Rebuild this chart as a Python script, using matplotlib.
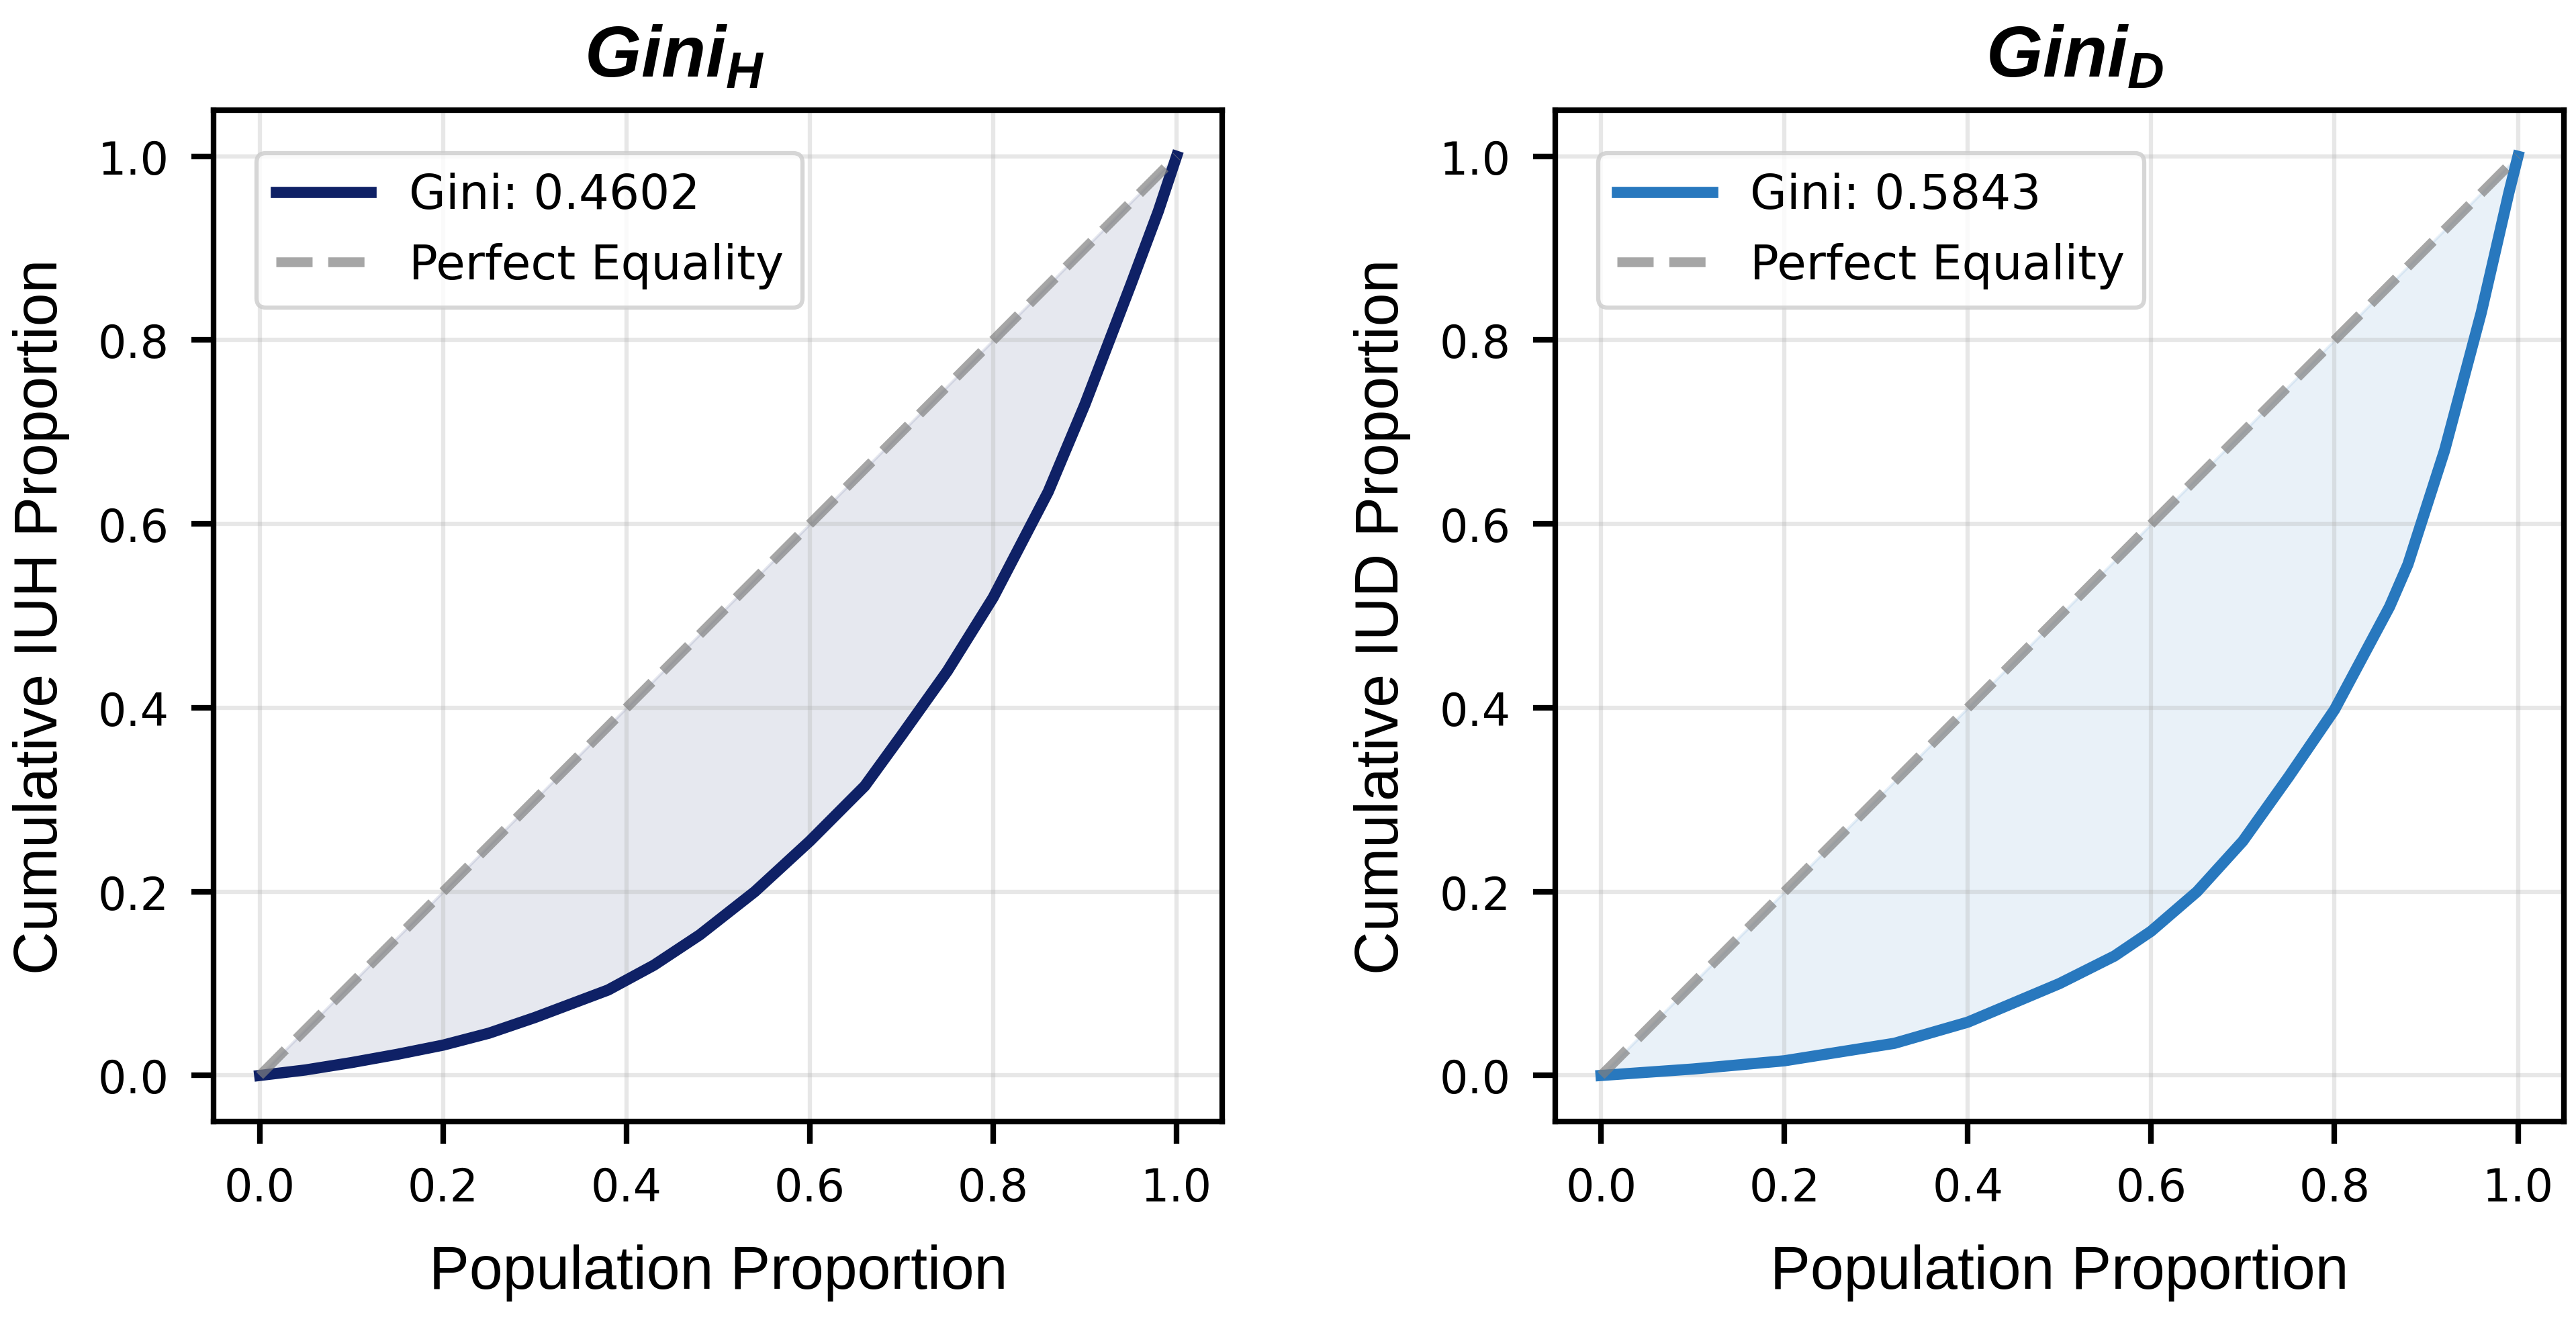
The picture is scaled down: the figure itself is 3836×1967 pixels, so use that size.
import matplotlib
matplotlib.use("Agg")
import matplotlib.pyplot as plt

plt.rcParams['mathtext.fontset'] = 'custom'
plt.rcParams['mathtext.it'] = 'Liberation Sans:italic:bold'
plt.rcParams['mathtext.rm'] = 'Liberation Sans:bold'

# Lorenz curve points
pop_h = [0.0, 0.05, 0.10, 0.15, 0.20, 0.25, 0.30, 0.38, 0.43, 0.48, 0.54,
         0.60, 0.66, 0.70, 0.75, 0.80, 0.86, 0.90, 0.95, 0.98, 1.0]
cum_h = [0.0, 0.006, 0.014, 0.023, 0.033, 0.046, 0.063, 0.093, 0.12, 0.153, 0.20,
         0.255, 0.315, 0.37, 0.44, 0.52, 0.635, 0.73, 0.86, 0.94, 1.0]

pop_d = [0.0, 0.10, 0.20, 0.32, 0.40, 0.50, 0.56, 0.60, 0.65, 0.70, 0.75,
         0.80, 0.86, 0.88, 0.92, 0.96, 0.99, 1.0]
cum_d = [0.0, 0.007, 0.016, 0.035, 0.058, 0.10, 0.13, 0.157, 0.20, 0.255, 0.325,
         0.398, 0.51, 0.556, 0.68, 0.83, 0.96, 1.0]

gini_vals = [0.4602, 0.5843]
titles = [r'$Gini_H$', r'$Gini_D$']
title_x = [0.457, 0.515]
ylabels = ['Cumulative IUH Proportion', 'Cumulative IUD Proportion']
colors = ['#0f2166', '#2878be']

fig, axes = plt.subplots(1, 2, figsize=(12.79, 6.56), dpi=300)
fig.subplots_adjust(left=0.083, right=0.995, bottom=0.151, top=0.916, wspace=0.33)

for ax, xs, ys, g, t, tx, yl, c in zip(axes, [pop_h, pop_d], [cum_h, cum_d],
                                       gini_vals, titles, title_x, ylabels, colors):
    ax.plot(xs, ys, color=c, lw=4, label=f'Gini: {g:.4f}')
    ax.plot([0, 1], [0, 1], '--', color='gray', lw=3.5, alpha=0.7, label='Perfect Equality')
    ax.fill_between(xs, xs, ys, color=c, alpha=0.1)
    ax.set_title(t, fontsize=26, pad=12, x=tx)
    ax.set_xlabel('Population Proportion', fontsize=21.5, family='Liberation Sans', labelpad=12)
    ax.set_ylabel(yl, fontsize=21.5, family='Liberation Sans', labelpad=10)
    ax.tick_params(labelsize=16, length=8, width=2, pad=8)
    ax.grid(True, alpha=0.3, lw=1.5)
    for s in ax.spines.values():
        s.set_linewidth(2)
    leg = ax.legend(loc='upper left', fontsize=17, borderaxespad=0.9)
    leg.get_frame().set_linewidth(1.5)

fig.savefig('out.png', dpi=300)
